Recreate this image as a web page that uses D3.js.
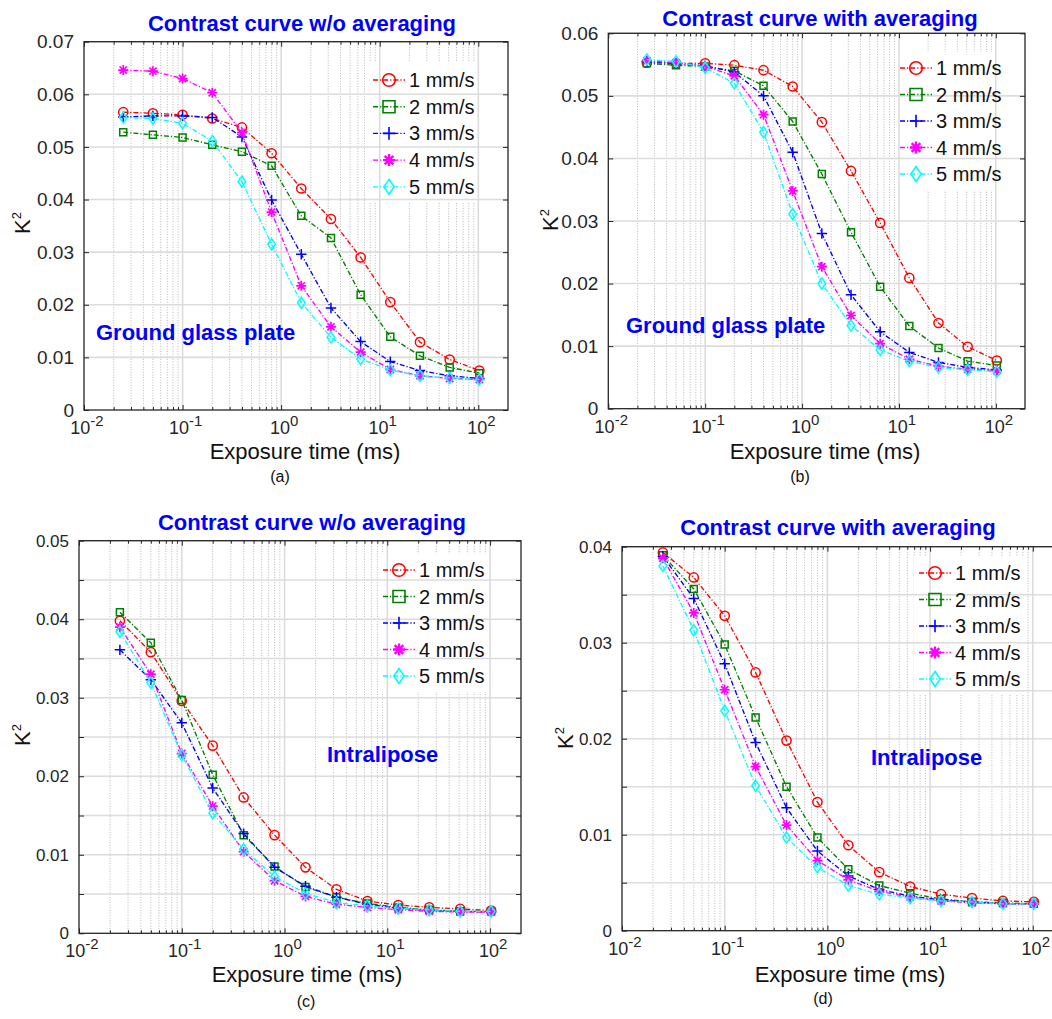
<!DOCTYPE html>
<html>
<head>
<meta charset="utf-8">
<script src="https://cdn.jsdelivr.net/npm/d3@7"></script>
<style>
  html, body { margin: 0; padding: 0; background: #ffffff; }
  svg { display: block; font-family: "Liberation Sans", Arial, sans-serif; }
</style>
</head>
<body>
<svg id="fig" width="1052" height="1019"></svg>
<script>
// Exposure times (ms) shared by every curve
const exposureMs = [0.025, 0.05, 0.1, 0.2, 0.4, 0.8, 1.6, 3.2, 6.4, 12.8, 25.6, 51.2, 102.4];

// Scanning speeds, one curve each
const speedLabels = ["1 mm/s", "2 mm/s", "3 mm/s", "4 mm/s", "5 mm/s"];
const speedColors = ["#ff0000", "#008000", "#0000ff", "#ff00ff", "#00ffff"];
const speedMarkers = ["circle", "square", "plus", "star", "diamond"];

// K^2 for the ground glass plate, single frames (rows: 1..5 mm/s)
const glassRawK2 = [
  [0.0566, 0.0564, 0.0561, 0.0554, 0.0537, 0.0488, 0.0421, 0.0363, 0.0290, 0.0205, 0.0129, 0.0096, 0.0075],
  [0.0528, 0.0523, 0.0518, 0.0504, 0.0491, 0.0464, 0.0369, 0.0327, 0.0219, 0.0139, 0.0103, 0.0081, 0.0070],
  [0.0557, 0.0559, 0.0559, 0.0556, 0.0519, 0.0399, 0.0296, 0.0194, 0.0130, 0.0092, 0.0075, 0.0065, 0.0060],
  [0.0646, 0.0644, 0.0630, 0.0603, 0.0527, 0.0376, 0.0236, 0.0158, 0.0110, 0.0077, 0.0065, 0.0060, 0.0058],
  [0.0556, 0.0554, 0.0545, 0.0511, 0.0434, 0.0315, 0.0204, 0.0138, 0.0097, 0.0076, 0.0065, 0.0061, 0.0058]
];

// K^2 for the ground glass plate, averaged
const glassAvgK2 = [
  [0.0553, 0.0552, 0.0552, 0.0549, 0.0541, 0.0515, 0.0458, 0.0380, 0.0297, 0.0209, 0.0137, 0.0099, 0.0077],
  [0.0552, 0.0549, 0.0547, 0.0540, 0.0516, 0.0459, 0.0375, 0.0282, 0.0195, 0.0132, 0.0097, 0.0076, 0.0069],
  [0.0555, 0.0552, 0.0548, 0.0538, 0.0500, 0.0410, 0.0280, 0.0182, 0.0123, 0.0090, 0.0074, 0.0066, 0.0062],
  [0.0556, 0.0553, 0.0547, 0.0532, 0.0470, 0.0348, 0.0227, 0.0149, 0.0104, 0.0079, 0.0068, 0.0063, 0.0061],
  [0.0558, 0.0555, 0.0545, 0.0520, 0.0442, 0.0311, 0.0200, 0.0133, 0.0094, 0.0076, 0.0066, 0.0062, 0.0059]
];

// K^2 for Intralipose, single frames
const lipidRawK2 = [
  [0.0398, 0.0358, 0.0296, 0.0239, 0.0173, 0.0125, 0.0084, 0.0056, 0.0041, 0.0036, 0.0033, 0.0031, 0.0029],
  [0.0409, 0.0370, 0.0297, 0.0202, 0.0125, 0.0085, 0.0059, 0.0046, 0.0038, 0.0033, 0.0030, 0.0028, 0.0028],
  [0.0361, 0.0323, 0.0268, 0.0185, 0.0127, 0.0084, 0.0060, 0.0046, 0.0037, 0.0032, 0.0029, 0.0028, 0.0027],
  [0.0390, 0.0330, 0.0229, 0.0162, 0.0104, 0.0067, 0.0047, 0.0037, 0.0033, 0.0030, 0.0028, 0.0027, 0.0027],
  [0.0384, 0.0319, 0.0227, 0.0153, 0.0107, 0.0072, 0.0051, 0.0039, 0.0035, 0.0032, 0.0030, 0.0028, 0.0028]
];

// K^2 for Intralipose, averaged
const lipidAvgK2 = [
  [0.0394, 0.0368, 0.0328, 0.0269, 0.0198, 0.0134, 0.0089, 0.0061, 0.0046, 0.0038, 0.0034, 0.0031, 0.0030],
  [0.0391, 0.0356, 0.0298, 0.0222, 0.0150, 0.0097, 0.0064, 0.0047, 0.0039, 0.0033, 0.0030, 0.0029, 0.0028],
  [0.0390, 0.0346, 0.0278, 0.0196, 0.0128, 0.0083, 0.0057, 0.0043, 0.0036, 0.0032, 0.0030, 0.0028, 0.0028],
  [0.0388, 0.0331, 0.0251, 0.0171, 0.0110, 0.0073, 0.0053, 0.0041, 0.0035, 0.0031, 0.0029, 0.0028, 0.0028],
  [0.0380, 0.0313, 0.0229, 0.0151, 0.0097, 0.0066, 0.0047, 0.0038, 0.0034, 0.0031, 0.0030, 0.0028, 0.0028]
];

// Per-panel text
const panelTitles = ["Contrast curve w/o averaging", "Contrast curve with averaging",
                     "Contrast curve w/o averaging", "Contrast curve with averaging"];
const sampleNames = ["Ground glass plate", "Ground glass plate", "Intralipose", "Intralipose"];
const panelTags = ["(a)", "(b)", "(c)", "(d)"];
const xDecades = [0.01, 0.1, 1, 10, 100];
const xDecadeExps = ["-2", "-1", "0", "1", "2"];

// Panel geometry and axis settings
const panels = [
  { data: glassRawK2, yMax: 0.07, yStep: 0.01, yFont: 19,
    left: 84, right: 508, top: 41.7, bottom: 410,
    title: [302, 31], sample: [96, 340], xlab: [305, 459], ylab: [22, 223], tag: [280, 482],
    legend: { x0: 373, row0: 80, dy: 26.7, bg: [368, 62, 108, 140] } },
  { data: glassAvgK2, yMax: 0.06, yStep: 0.01, yFont: 19,
    left: 608.3, right: 1025, top: 33.3, bottom: 408.7,
    title: [820, 26], sample: [626, 333], xlab: [825, 459], ylab: [550, 220], tag: [800, 482],
    legend: { x0: 900, row0: 68, dy: 26.5, bg: [895, 52, 108, 138] } },
  { data: lipidRawK2, yMax: 0.05, yStep: 0.005, yFont: 17,
    left: 79, right: 521, top: 540.7, bottom: 933.3,
    title: [312, 530], sample: [327, 762], xlab: [307, 982], ylab: [22, 735], tag: [306, 1007],
    legend: { x0: 383, row0: 570, dy: 26.5, bg: [378, 554, 112, 138] } },
  { data: lipidAvgK2, yMax: 0.04, yStep: 0.005, yFont: 17,
    left: 622, right: 1063.7, top: 546.7, bottom: 930.7,
    title: [838, 535], sample: [871, 765], xlab: [850, 982], ylab: [565, 738], tag: [823, 1004],
    legend: { x0: 919, row0: 573, dy: 26.5, bg: [914, 557, 112, 138] } }
];

const svg = d3.select("#fig");
const inkColor = "#262626";
const dashDot = "5,2,1.2,2";

// Outline path for each marker shape, s is the half size
function markerPath(shape, s) {
  switch (shape) {
    case "circle":
      return `M${-s},0a${s},${s} 0 1,0 ${2 * s},0a${s},${s} 0 1,0 ${-2 * s},0Z`;
    case "square":
      return `M${-s},${-s}h${2 * s}v${2 * s}h${-2 * s}Z`;
    case "plus":
      return `M${-s},0h${2 * s}M0,${-s}v${2 * s}`;
    case "star": {
      const d = s * 0.72;
      return `M${-s},0h${2 * s}M0,${-s}v${2 * s}M${-d},${-d}L${d},${d}M${-d},${d}L${d},${-d}`;
    }
    case "diamond":
      return `M0,${-s * 1.25}L${s * 0.85},0L0,${s * 1.25}L${-s * 0.85},0Z`;
  }
}
const dataMarkerSize = { circle: 4.6, square: 3.5, plus: 5.2, star: 5, diamond: 4.5 };
const legendMarkerSize = { circle: 6.3, square: 6, plus: 6.3, star: 6, diamond: 6 };

function drawPanel(p, idx) {
  const g = svg.append("g");
  const x = d3.scaleLog().domain([0.01, 200]).range([p.left, p.right]);
  const y = d3.scaleLinear().domain([0, p.yMax]).range([p.bottom, p.top]);

  const minorX = [];
  xDecades.forEach(dec => {
    for (let k = 2; k <= 9; k++) {
      const v = k * dec;
      if (v < 200) minorX.push(v);
    }
  });
  const nY = Math.round(p.yMax / p.yStep);
  const yTicks = d3.range(0, nY + 1).map(i => +(i * p.yStep).toFixed(4));

  // minor vertical grid (dotted)
  g.append("g").selectAll("line").data(minorX).join("line")
    .attr("x1", d => x(d)).attr("x2", d => x(d))
    .attr("y1", p.top).attr("y2", p.bottom)
    .attr("stroke", "#b8b8b8").attr("stroke-width", 1)
    .attr("stroke-dasharray", "1,1.6");

  // legend background hides the minor grid behind the entries
  const lg = p.legend;
  g.append("rect")
    .attr("x", lg.bg[0]).attr("y", lg.bg[1])
    .attr("width", lg.bg[2]).attr("height", lg.bg[3])
    .attr("fill", "#ffffff");

  // major grid
  const grid = g.append("g").attr("stroke", "#dcdcdc").attr("stroke-width", 1.6);
  grid.selectAll("line.v").data(xDecades.slice(1)).join("line").attr("class", "v")
    .attr("x1", d => x(d)).attr("x2", d => x(d))
    .attr("y1", p.top).attr("y2", p.bottom);
  grid.selectAll("line.h").data(yTicks.slice(1)).join("line").attr("class", "h")
    .attr("x1", p.left).attr("x2", p.right)
    .attr("y1", d => y(d)).attr("y2", d => y(d));

  // axes: ticks on all four sides, pointing inward
  const fmtY = v => {
    if (Math.abs(v) < 1e-9) return "0";
    const r = Math.round(v * 1000);
    return r % 10 === 0 ? v.toFixed(2) : "";
  };
  const styleAxis = sel => {
    sel.select(".domain").remove();
    sel.selectAll(".tick line").attr("stroke", inkColor).attr("stroke-width", 1);
    sel.selectAll(".tick text").attr("fill", inkColor);
  };
  g.append("g").attr("transform", `translate(${p.left},0)`)
    .call(d3.axisLeft(y).tickValues(yTicks).tickSize(-5).tickPadding(10).tickFormat(fmtY))
    .call(styleAxis)
    .selectAll("text").attr("font-size", p.yFont).attr("font-family", "Liberation Sans, Arial, sans-serif");
  g.append("g").attr("transform", `translate(${p.right},0)`)
    .call(d3.axisRight(y).tickValues(yTicks).tickSize(-5).tickFormat(""))
    .call(styleAxis);
  g.append("g").attr("transform", `translate(0,${p.bottom})`)
    .call(d3.axisBottom(x).tickValues(xDecades).tickSize(-5).tickFormat(""))
    .call(styleAxis);
  g.append("g").attr("transform", `translate(0,${p.bottom})`)
    .call(d3.axisBottom(x).tickValues(minorX).tickSize(-3).tickFormat(""))
    .call(styleAxis);
  g.append("g").attr("transform", `translate(0,${p.top})`)
    .call(d3.axisTop(x).tickValues(xDecades).tickSize(-5).tickFormat(""))
    .call(styleAxis);
  g.append("g").attr("transform", `translate(0,${p.top})`)
    .call(d3.axisTop(x).tickValues(minorX).tickSize(-3).tickFormat(""))
    .call(styleAxis);

  // decade labels 10^n
  const xl = g.append("g").attr("fill", inkColor).attr("font-size", 18);
  xDecades.forEach((v, i) => {
    const t = xl.append("text").attr("x", x(v) + 3).attr("y", p.bottom + 24)
      .attr("text-anchor", "middle");
    t.append("tspan").text("10");
    t.append("tspan").attr("dy", -8).attr("font-size", 15).text(xDecadeExps[i]);
  });

  // axes box
  g.append("rect")
    .attr("x", p.left).attr("y", p.top)
    .attr("width", p.right - p.left).attr("height", p.bottom - p.top)
    .attr("fill", "none").attr("stroke", inkColor).attr("stroke-width", 1.3);

  // curves
  const line = d3.line().x((d, i) => x(exposureMs[i])).y(d => y(d));
  p.data.forEach((series, s) => {
    g.append("path").datum(series)
      .attr("d", line)
      .attr("fill", "none").attr("stroke", speedColors[s])
      .attr("stroke-width", 1.35).attr("stroke-dasharray", dashDot);
    const shape = speedMarkers[s];
    g.append("g").selectAll("path").data(series).join("path")
      .attr("transform", (d, i) => `translate(${x(exposureMs[i])},${y(d)})`)
      .attr("d", markerPath(shape, dataMarkerSize[shape]))
      .attr("fill", "none").attr("stroke", speedColors[s])
      .attr("stroke-width", shape === "star" ? 1.7 : 1.5);
  });

  // legend
  speedLabels.forEach((lab, s) => {
    const ly = lg.row0 + s * lg.dy;
    const shape = speedMarkers[s];
    g.append("line")
      .attr("x1", lg.x0).attr("x2", lg.x0 + 32).attr("y1", ly).attr("y2", ly)
      .attr("stroke", speedColors[s]).attr("stroke-width", 1.35)
      .attr("stroke-dasharray", dashDot);
    g.append("path")
      .attr("transform", `translate(${lg.x0 + 16},${ly})`)
      .attr("d", markerPath(shape, legendMarkerSize[shape]))
      .attr("fill", "none").attr("stroke", speedColors[s])
      .attr("stroke-width", shape === "star" ? 2.4 : 1.6);
    g.append("text")
      .attr("x", lg.x0 + 36).attr("y", ly + 7)
      .attr("font-size", 20).attr("fill", "#111111")
      .text(lab);
  });

  // titles and labels
  g.append("text").attr("x", p.title[0]).attr("y", p.title[1])
    .attr("text-anchor", "middle").attr("font-size", 22).attr("font-weight", "bold")
    .attr("fill", "#0000ff").text(panelTitles[idx]);
  g.append("text").attr("x", p.sample[0]).attr("y", p.sample[1])
    .attr("font-size", 22).attr("font-weight", "bold")
    .attr("fill", "#0000ff").text(sampleNames[idx]);
  g.append("text").attr("x", p.xlab[0]).attr("y", p.xlab[1])
    .attr("text-anchor", "middle").attr("font-size", 22).attr("fill", "#111111")
    .text("Exposure time (ms)");
  const yl = g.append("text")
    .attr("transform", `translate(${p.ylab[0] + 8},${p.ylab[1]}) rotate(-90)`)
    .attr("text-anchor", "middle").attr("font-size", 22).attr("fill", "#111111");
  yl.append("tspan").text("K");
  yl.append("tspan").attr("dy", -9).attr("font-size", 13).text("2");
  g.append("text").attr("x", p.tag[0]).attr("y", p.tag[1])
    .attr("text-anchor", "middle").attr("font-size", 16).attr("fill", "#111111")
    .text(panelTags[idx]);
}

panels.forEach(drawPanel);
</script>
</body>
</html>
